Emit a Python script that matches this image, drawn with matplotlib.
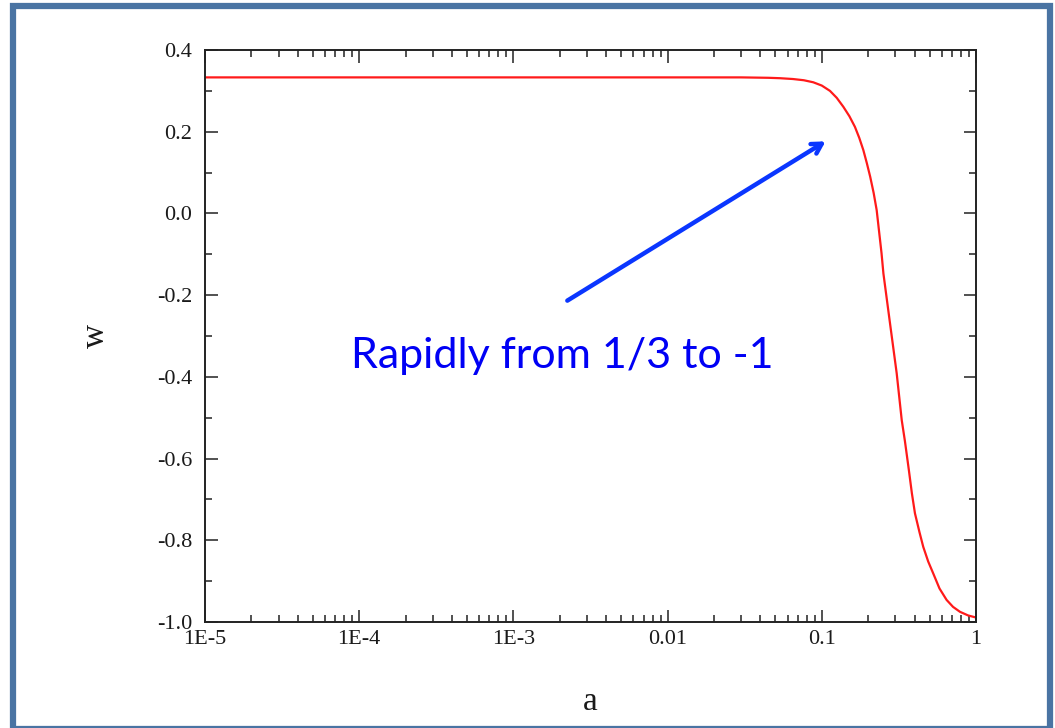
import numpy as np
from matplotlib import pyplot as plt
from matplotlib.patches import Rectangle
from matplotlib.ticker import FixedLocator, FixedFormatter, LogLocator, MultipleLocator
#
# equation of state w against scale factor a
#
a_vals = [1e-5, 1e-4, 1e-3, 0.01, 0.03, 0.045, 0.0536, 0.065, 0.0765, 0.0881, 0.100,
          0.113, 0.125, 0.138, 0.151, 0.164, 0.175, 0.186, 0.196, 0.206, 0.217, 0.227,
          0.244, 0.251, 0.277, 0.306, 0.330, 0.346, 0.367, 0.384, 0.402, 0.430, 0.455,
          0.490, 0.528, 0.580, 0.645, 0.710, 0.787, 0.890, 1.0]
w_vals = [0.333, 0.333, 0.333, 0.333, 0.333, 0.332, 0.331, 0.329, 0.326, 0.321, 0.313,
          0.300, 0.283, 0.261, 0.238, 0.212, 0.185, 0.155, 0.123, 0.090, 0.050, 0.008,
          -0.097, -0.147, -0.269, -0.391, -0.506, -0.557, -0.628, -0.685, -0.734, -0.780, -0.816,
          -0.852, -0.881, -0.918, -0.946, -0.963, -0.975, -0.984, -0.989]

xticks = [1e-5, 1e-4, 1e-3, 0.01, 0.1, 1]
xticklabels = ['1E-5', '1E-4', '1E-3', '0.01', '0.1', '1']
yticks = [-1.0, -0.8, -0.6, -0.4, -0.2, 0.0, 0.2, 0.4]
yticklabels = ['%.1f' % v for v in yticks]

plt.rcParams['axes.unicode_minus'] = False
plt.rcParams['font.family'] = 'Liberation Serif'

fig = plt.figure(figsize=(10.55, 7.28), dpi=100)
ax = fig.add_axes([0.1943, 0.1456, 0.7308, 0.7857])

ax.plot(a_vals, w_vals, color='#ff1a1a', lw=1.6)

ax.set_xscale('log')
ax.set_xlim(1e-5, 1)
ax.set_ylim(-1.0, 0.4)
ax.xaxis.set_major_locator(FixedLocator(xticks))
ax.xaxis.set_major_formatter(FixedFormatter(xticklabels))
ax.xaxis.set_minor_locator(LogLocator(base=10, subs=np.arange(2, 10)))
ax.xaxis.set_minor_formatter(FixedFormatter([]))
ax.yaxis.set_major_locator(FixedLocator(yticks))
ax.yaxis.set_major_formatter(FixedFormatter(yticklabels))
ax.yaxis.set_minor_locator(MultipleLocator(0.1))

ax.tick_params(which='both', direction='in', top=True, right=True, width=1.1, colors='#222222')
ax.tick_params(which='major', length=9, labelsize=16, labelcolor='#1a1a1a')
ax.tick_params(which='minor', length=5)
ax.tick_params(axis='x', pad=6)
ax.tick_params(axis='y', pad=9)
for s in ax.spines.values():
    s.set_linewidth(1.4)
    s.set_color('#222222')

ax.set_xlabel('a', fontsize=24, labelpad=27, color='#1a1a1a')
ax.set_ylabel('w', fontsize=24, labelpad=33, color='#1a1a1a')

# note on the fast drop
ax.annotate('', xy=(0.1096, 0.180), xytext=(0.00216, -0.217),
            arrowprops=dict(arrowstyle='->,head_length=0.7,head_width=0.4',
                            color='#0a36ff', lw=3.2))
ax.text(0.00207, -0.349, 'Rapidly from 1/3 to -1', color='#0000f5',
        fontsize=31, family='Lato', ha='center', va='center')

# slide frame
fig.patches.append(Rectangle((13 / 1055, -0.001), 1037 / 1055, 1 - 6 / 728 + 0.001,
                             transform=fig.transFigure, fill=False,
                             edgecolor='#4a74a3', lw=4.5, clip_on=False))

plt.savefig('out.png', dpi=100)
